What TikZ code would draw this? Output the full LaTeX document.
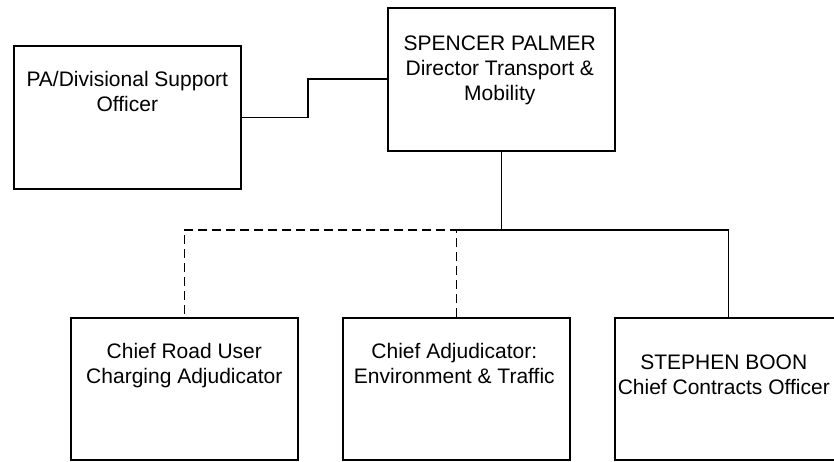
\documentclass[tikz,border=0pt]{standalone}
\usepackage{fontspec}
\setmainfont{Liberation Sans}
\begin{document}
\begin{tikzpicture}[x=1pt,y=-1pt,
  orgbox/.style={draw, line width=1.6pt, inner sep=0pt, anchor=north west,
    minimum width=227pt, minimum height=#1},
  orgbox/.default=142pt,
  txt/.style={inner sep=0pt, anchor=north, align=center,
    font=\fontsize{21}{25}\selectfont},
  conn/.style={line width=1.6pt},
  dconn/.style={line width=1.6pt, dash pattern=on 9pt off 5pt}]
\useasboundingbox (0,0) rectangle (834,461);

\node[orgbox=143pt] (pa) at (13,45) {};
\node[orgbox=143pt] (spencer) at (387,7) {};
\node[orgbox] (road) at (70,317) {};
\node[orgbox] (adj) at (342,317) {};
\node[orgbox] (boon) at (614,317) {};

\node[txt] (patxt) at ([yshift=-23.5pt]pa.north) {\strut PA/Divisional Support\\Officer};
\node[txt] (sptxt) at ([xshift=-1.5pt,yshift=-25.5pt]spencer.north) {\strut SPENCER PALMER\\Director Transport \&\\Mobility};
\node[txt] (roadtxt) at ([yshift=-23.5pt]road.north) {\strut Chief Road User\\Charging Adjudicator};
\node[txt] (adjtxt) at ([xshift=-2pt,yshift=-23.5pt]adj.north) {\strut Chief Adjudicator:\\Environment \& Traffic};
\node[txt] (boontxt) at ([xshift=-4.5pt,yshift=-34.5pt]boon.north) {\strut STEPHEN BOON\\Chief Contracts Officer};

\coordinate (bus) at (0,230);
\coordinate (pastep) at (308,0);

\draw[conn] (pa.east) -- (pa.east -| pastep) |- (spencer.west |- 0,79);
\draw[conn] (spencer.south) -- (spencer.south |- bus);
\draw[conn] (adj.north |- bus) -| (boon.north);
\draw[dconn] (adj.north) -- (adj.north |- bus) -| (road.north);
\end{tikzpicture}
\end{document}
